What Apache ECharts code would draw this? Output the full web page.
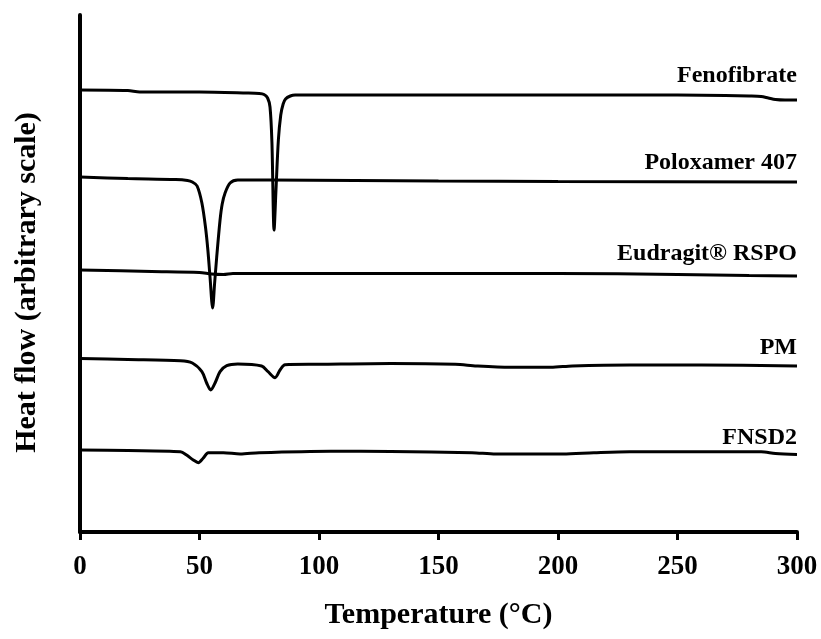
<!DOCTYPE html>
<html>
<head>
<meta charset="utf-8">
<title>DSC thermograms</title>
<script src="https://cdn.jsdelivr.net/npm/echarts@6/dist/echarts.min.js"></script>
<style>
  html, body { margin: 0; padding: 0; background: #ffffff; }
  #chart { width: 821px; height: 639px; }
</style>
</head>
<body>
<div id="chart"></div>
<script>
// Temperature axis ticks (°C)
const tempTicks = [0, 50, 100, 150, 200, 250, 300];

// Sample names, top trace first
const sampleNames = ['Fenofibrate', 'Poloxamer 407', 'Eudragit® RSPO', 'PM', 'FNSD2'];

// Heat flow traces, [temperature °C, heat flow (arbitrary, stacked offset)]
const fenofibrate = [
  [0, 442], [20, 441.5], [25, 440], [50, 440], [70, 439], [75, 438.5], [77, 437.5],
  [78.5, 434], [79.5, 425], [80.3, 390], [81.2, 302], [82, 342], [83, 392], [84, 417],
  [85, 428], [86, 433], [88, 436], [90, 437], [100, 437], [150, 437], [200, 437],
  [250, 437], [270, 436.5], [280, 436], [285, 435.5], [288, 434], [291, 432.5],
  [295, 432], [300, 432]
];
const poloxamer407 = [
  [0, 355], [20, 353.5], [40, 352.5], [45, 351.5], [47, 350], [49, 346], [51, 329],
  [52.5, 305], [53.5, 282], [54.4, 255], [55.5, 224], [56.3, 248], [57.2, 275],
  [58.6, 312], [59.5, 328], [60.7, 339], [62.8, 349], [66, 352], [80, 352],
  [150, 351], [200, 350.5], [300, 350]
];
const eudragitRSPO = [
  [0, 262], [30, 260.5], [50, 259.5], [55, 258], [60, 257.5], [64, 258.5], [100, 258.5],
  [150, 258.5], [200, 258.5], [250, 257.5], [280, 256.5], [300, 256]
];
const physicalMixture = [
  [0, 173.5], [20, 172.5], [42, 171.3], [47, 169], [51, 160.3], [53, 149], [54.7, 142],
  [56.5, 149], [58.6, 160.3], [61.4, 166.3], [66, 168], [76, 166], [78.7, 160.3],
  [81.6, 154.3], [83.7, 162], [85.8, 167.3], [100, 167.7], [130, 168.5], [157, 167.7],
  [166, 166], [180, 164.7], [197, 164.7], [206, 166], [230, 167], [260, 167], [300, 166]
];
const fnsd2 = [
  [0, 82], [20, 81.5], [42, 80.3], [44.6, 77], [47.4, 72], [49.5, 69.3], [51.5, 73.7],
  [53.7, 79.3], [60, 79.3], [67, 78], [75, 79.3], [105, 80.8], [130, 80.5], [164, 79.3],
  [174, 78], [202, 78], [215, 79.3], [230, 80.3], [285, 80.3], [291, 78.5], [300, 77.5]
];

const traces = [fenofibrate, poloxamer407, eudragitRSPO, physicalMixture, fnsd2];
// Gap between each trace end and the bottom of its name label
const labelGaps = [12, 7, 10, 6, 5];

const serif = '"Liberation Serif", "Times New Roman", serif';

const series = traces.map(function (trace, i) {
  return {
    name: sampleNames[i],
    type: 'line',
    showSymbol: false,
    smooth: 0.3,
    lineStyle: { color: '#000000', width: 3 },
    endLabel: {
      show: true,
      distance: 0,
      align: 'right',
      verticalAlign: 'bottom',
      offset: [0, -labelGaps[i]],
      formatter: sampleNames[i],
      color: '#000000',
      fontFamily: serif,
      fontWeight: 'bold',
      fontSize: 24
    },
    data: trace
  };
});

const chart = echarts.init(document.getElementById('chart'), null, { renderer: 'canvas' });
chart.setOption({
  animation: false,
  backgroundColor: '#ffffff',
  grid: {
    left: 80, right: 24, top: 15, bottom: 107,
    containLabel: false,
    outerBoundsMode: 'none'
  },
  xAxis: {
    type: 'value',
    min: tempTicks[0],
    max: tempTicks[tempTicks.length - 1],
    interval: tempTicks[1] - tempTicks[0],
    name: 'Temperature (°C)',
    nameLocation: 'middle',
    nameGap: 68,
    nameTextStyle: { color: '#000000', fontFamily: serif, fontWeight: 'bold', fontSize: 30 },
    axisLine: { show: true, lineStyle: { color: '#000000', width: 4 } },
    axisTick: { show: true, inside: false, length: 8, lineStyle: { color: '#000000', width: 3 } },
    axisLabel: { color: '#000000', fontFamily: serif, fontWeight: 'bold', fontSize: 27, margin: 22 },
    splitLine: { show: false }
  },
  yAxis: {
    type: 'value',
    min: 0,
    max: 517,
    name: 'Heat flow (arbitrary scale)',
    nameLocation: 'middle',
    nameRotate: 90,
    nameGap: 38,
    nameTextStyle: {
      color: '#000000', fontFamily: serif, fontWeight: 'bold', fontSize: 30,
      padding: [0, 18, 0, 0]
    },
    axisLine: { show: true, lineStyle: { color: '#000000', width: 4 } },
    axisTick: { show: false },
    axisLabel: { show: false },
    splitLine: { show: false }
  },
  series: series
});
</script>
</body>
</html>
